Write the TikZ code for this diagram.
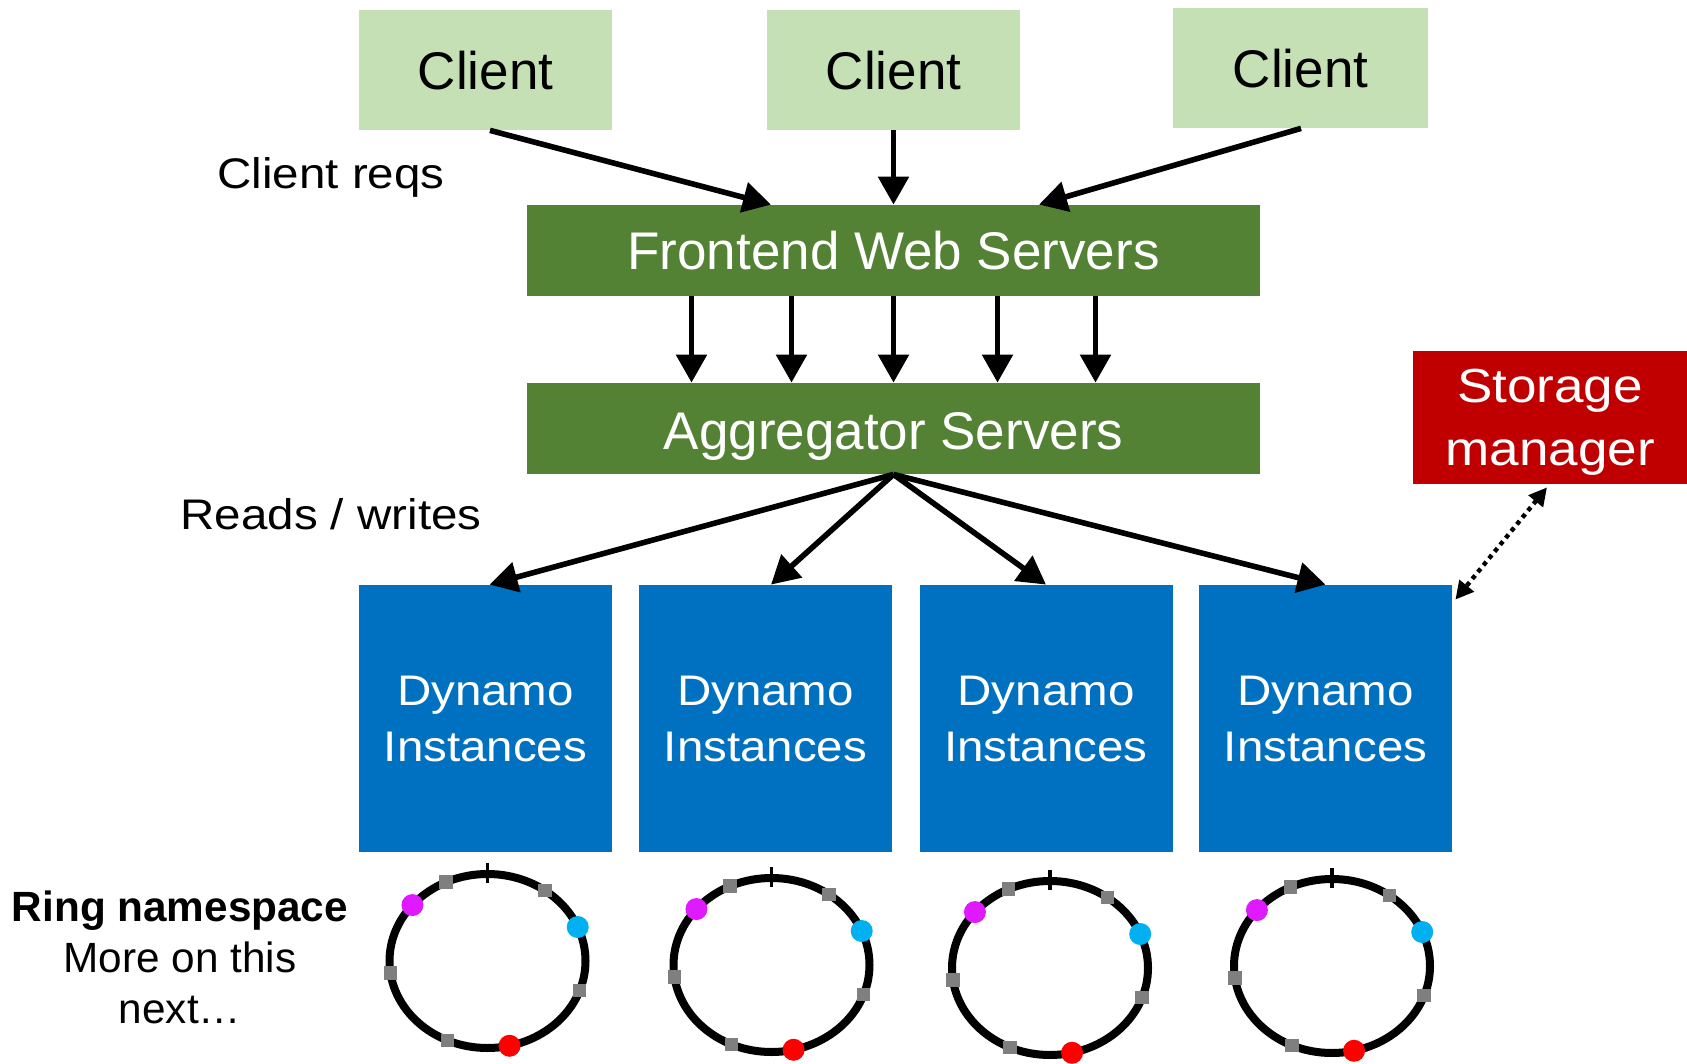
\documentclass[tikz,border=0pt]{standalone}
\usepackage{fontspec}
\setmainfont{Liberation Sans}
\newfontfamily\widesans[FakeStretch=1.11]{Liberation Sans}
\usetikzlibrary{arrows.meta,calc}
\definecolor{clientg}{HTML}{C5E0B4}
\definecolor{darkg}{HTML}{548235}
\definecolor{smred}{HTML}{C00000}
\definecolor{dynblue}{HTML}{0070C0}
\definecolor{ringmag}{HTML}{E01AFF}
\definecolor{ringcyan}{HTML}{00B0F0}
\definecolor{ringgray}{HTML}{7F7F7F}
\newcommand{\dyntext}{\rule{0pt}{16.85pt}Dynamo\\Instances\rule[-2pt]{0pt}{2pt}}
\tikzset{
 dynring/.pic={
  \draw[line width=4pt] (0,0) ellipse [x radius=98, y radius=87];
  \draw[line width=1.6pt] (0,-98) -- (0,-78);
  \foreach \a in {115,54,188,-20,246}
    \fill[ringgray] ({98*cos(\a)},{-87*sin(\a)}) +(-6.7,-6.7) rectangle +(6.7,6.7);
  \fill[ringmag] ({98*cos(140)},{-87*sin(140)}) circle[radius=11];
  \fill[ringcyan] ({98*cos(23)},{-87*sin(23)}) circle[radius=11];
  \fill[red] ({98*cos(-77)},{-87*sin(-77)}) circle[radius=11];
 }
}
\begin{document}
\begin{tikzpicture}[x=0.5pt,y=-0.5pt,
 clientbox/.style={fill=clientg, minimum width=126.5pt, minimum height=60pt, inner sep=0pt, text height=19.3pt, text depth=0pt, font=\fontsize{26.5}{32}\selectfont},
 serverbox/.style={fill=darkg, text=white, minimum width=366.5pt, minimum height=45.5pt, inner sep=0pt, text height=19.5pt, text depth=0pt, font=\fontsize{26.5}{32}\selectfont},
 dynbox/.style={fill=dynblue, text=white, minimum width=126.5pt, minimum height=133.5pt, inner sep=0pt, align=center, font=\widesans\fontsize{21.4}{28.35}\selectfont},
 smbox/.style={fill=smred, text=white, minimum width=137pt, minimum height=66.5pt, inner sep=0pt, align=center, font=\widesans\fontsize{23.9}{31.5}\selectfont},
 lbl/.style={font=\widesans\fontsize{21.4}{26}\selectfont, inner sep=0pt, anchor=base},
 arr/.style={line width=2.8pt, -{Triangle[length=14pt,width=15pt]}},
 dotarr/.style={line width=2.2pt, dash pattern=on 2.2pt off 2.2pt, {Triangle[length=9pt,width=9pt]}-{Triangle[length=9pt,width=9pt]}}
]
\useasboundingbox (0,0) rectangle (1687,1064);

\node[clientbox] (c1) at (485.5,70) {Client};
\node[clientbox] (c2) at (893.5,70) {Client};
\node[clientbox, minimum width=127.5pt] (c3) at (1300.5,68) {Client};

\node[serverbox] (fe) at (893.5,250.5) {Frontend Web Servers};
\node[serverbox, text height=20.5pt] (ag) at (893.5,428.5) {Aggregator Servers};

\node[smbox] (sm) at (1550,417.5) {\rule{0pt}{22pt}Storage\\manager\rule[-6pt]{0pt}{6pt}};

\node[dynbox] (d1) at (485.5,718.5) {\dyntext};
\node[dynbox] (d2) at (765.5,718.5) {\dyntext};
\node[dynbox] (d3) at (1046,718.5) {\dyntext};
\node[dynbox] (d4) at (1325.5,718.5) {\dyntext};

\node[lbl] (creq) at (331,188.3) {Client reqs};
\node[lbl] (rw) at (331,529) {Reads / writes};
\node[align=center, inner sep=0pt, font=\fontsize{21.15}{25.5}\selectfont] (rn) at (180,957)
  {\textbf{Ring namespace}\\More on this\\next\ldots};

% client requests
\draw[arr] ([xshift=2.25pt]c1.south) -- ([xshift=-61.25pt]fe.north);
\draw[arr] (c2.south) -- (fe.north);
\draw[arr] ([xshift=0.25pt]c3.south) -- ([xshift=72.75pt]fe.north);

% frontend to aggregator
\foreach \s in {-101,-51,0,52,101}
  \draw[arr] ([xshift=\s pt]fe.south) -- ([xshift=\s pt]ag.north);

% aggregator to dynamo
\draw[arr] (ag.south) -- ([xshift=2pt]d1.north);
\draw[arr] (ag.south) -- ([xshift=2.75pt]d2.north);
\draw[arr] (ag.south) -- (d3.north);
\draw[arr] (ag.south) -- (d4.north);

% storage manager
\draw[dotarr] ([shift={(-1.5pt,-1.5pt)}]sm.south) -- ([shift={(1.5pt,-7.5pt)}]d4.north east);

% rings
\pic at (487.5,961) {dynring};
\pic at (771.5,965) {dynring};
\pic at (1050,968) {dynring};
\pic at (1332,966) {dynring};
\end{tikzpicture}
\end{document}
